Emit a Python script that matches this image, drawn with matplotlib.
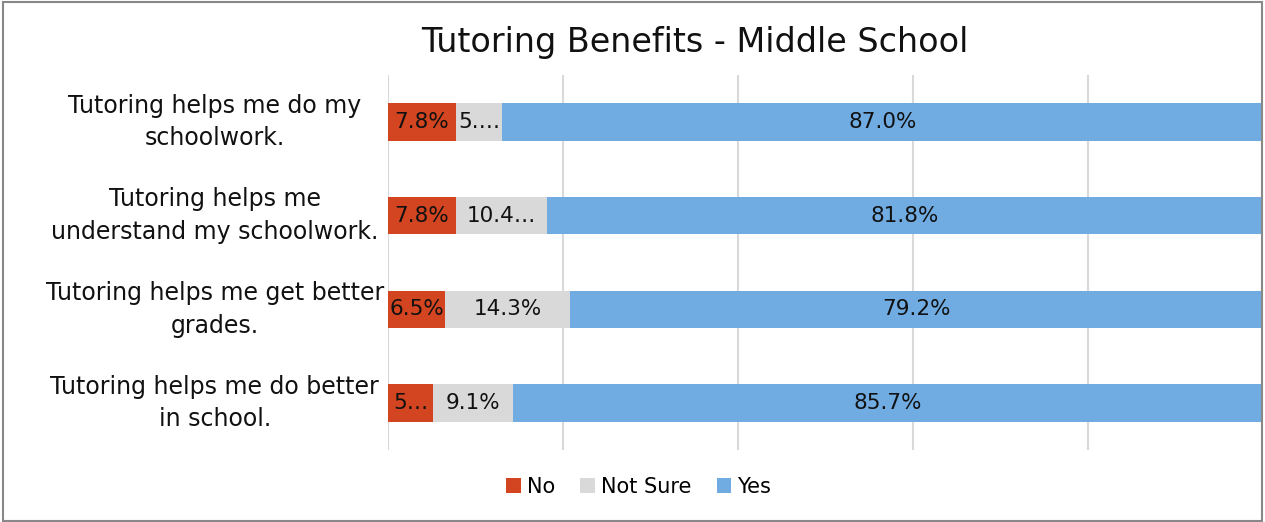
import matplotlib
matplotlib.use("Agg")
import matplotlib.pyplot as plt
from matplotlib.patches import Rectangle

questions = [
    "Tutoring helps me do my\nschoolwork.",
    "Tutoring helps me\nunderstand my schoolwork.",
    "Tutoring helps me get better\ngrades.",
    "Tutoring helps me do better\nin school.",
]
no_vals = [7.8, 7.8, 6.5, 5.2]
not_sure_vals = [5.2, 10.4, 14.3, 9.1]
yes_vals = [87.0, 81.8, 79.2, 85.7]

# labels as shown in the chart (some are cut off because the segment is narrow)
no_labels = ["7.8%", "7.8%", "6.5%", "5\u2026"]
not_sure_labels = ["5.\u2026", "10.4\u2026", "14.3%", "9.1%"]
yes_labels = ["87.0%", "81.8%", "79.2%", "85.7%"]

series = [
    ("No", no_vals, no_labels, "#D24520"),
    ("Not Sure", not_sure_vals, not_sure_labels, "#D9D9D9"),
    ("Yes", yes_vals, yes_labels, "#70ACE2"),
]

fig = plt.figure(figsize=(12.65, 5.22), dpi=100)
ax = fig.add_axes([0.3067, 0.138, 0.6917, 0.718])

y = list(range(len(questions)))
left = [0.0] * len(questions)
for name, vals, labels, color in series:
    bars = ax.barh(y, vals, left=left, height=0.4, color=color, label=name, zorder=2)
    for b, lab in zip(bars, labels):
        cx = b.get_x() + b.get_width() / 2
        ax.text(cx, b.get_y() + b.get_height() / 2, lab, ha="center", va="center",
                fontsize=15.5, color="#111111", zorder=3)
    left = [l + v for l, v in zip(left, vals)]

ax.set_xlim(0, 100)
ax.set_ylim(3.5, -0.5)
ax.set_xticks([0, 20, 40, 60, 80, 100])
ax.set_xticklabels([])
ax.tick_params(axis="x", length=0)
ax.tick_params(axis="y", length=0, pad=0)
ax.set_yticks(y)
ax.set_yticklabels(questions, fontsize=17, ha="center", va="center",
                   multialignment="center", color="#111111", linespacing=1.45)
for t in ax.get_yticklabels():
    t.set_x(-0.198)
ax.grid(axis="x", color="#D9D9D9", linewidth=1.5, zorder=0)
for s in ax.spines.values():
    s.set_visible(False)

fig.text(0.549, 0.918, "Tutoring Benefits - Middle School", fontsize=24,
         ha="center", va="center", color="#111111")

fig.legend(loc="center", bbox_to_anchor=(0.505, 0.067), ncol=3, frameon=False,
           fontsize=15, handlelength=0.7, handleheight=0.7, handletextpad=0.3,
           columnspacing=1.2)

fig.patches.append(Rectangle((0.002, 0.002), 0.996, 0.994, transform=fig.transFigure,
                             fill=False, edgecolor="#888888", linewidth=1.5))

fig.savefig("out.png", dpi=100)
